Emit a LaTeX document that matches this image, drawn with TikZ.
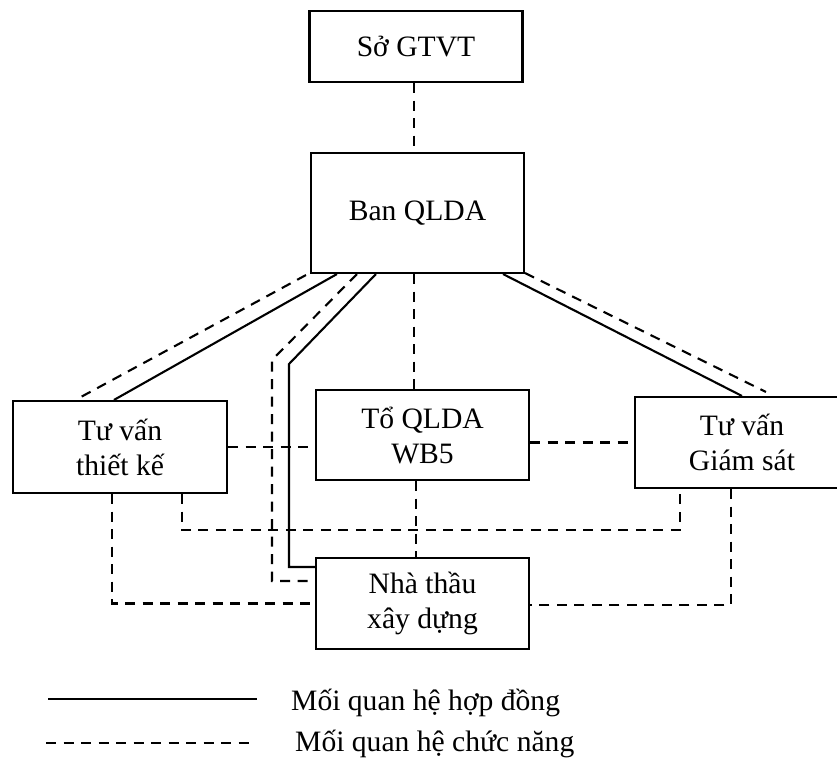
\documentclass[tikz,border=0pt]{standalone}
\usepackage{fontspec}
\setmainfont{Liberation Serif}
\usetikzlibrary{calc}

\tikzset{
  unit/.style={draw, line width=2.1pt, minimum width=213pt, align=center,
    inner sep=2pt, font=\fontsize{29.6}{35}\selectfont},
  contract/.style={line width=2.1pt},
  functional/.style={line width=2.1pt, dash pattern=on 10pt off 7.5pt},
  legendtext/.style={anchor=base west, inner sep=0pt, font=\fontsize{29.6}{35}\selectfont}
}

\begin{document}
\begin{tikzpicture}[x=1pt, y=-1pt]
  \useasboundingbox (0,0) rectangle (837,761);
  \clip (0,0) rectangle (837,761);

  % organisation units
  \node[unit, minimum height=71pt]  (so)  at (416,46.5)    {Sở GTVT};
  \node[unit, minimum height=120pt] (ban) at (417.5,213)   {Ban QLDA};
  \node[unit, minimum height=92pt, minimum width=214pt] (tk) at (120,447) {Tư vấn\\thiết kế};
  \node[unit, minimum height=90pt]  (to)  at (422.5,435)   {Tổ QLDA\\WB5};
  \node[unit, minimum height=91pt, minimum width=214pt] (gs) at (742,442.5) {Tư vấn\\Giám sát};
  \node[unit, minimum height=91pt]  (nt)  at (422.5,603.5) {Nhà thầu\\xây dựng};

  % Sở GTVT -- Ban QLDA
  \draw[functional] ($(so.south)+(-2,0)$) -- ($(ban.north)+(-3.5,0)$);

  % Ban QLDA -- Tư vấn thiết kế
  \draw[functional] ($(ban.south west)+(-4,1)$) -- ($(tk.north west)+(69,-3)$);
  \draw[contract]   ($(ban.south west)+(27,0)$) -- ($(tk.north west)+(102,0)$);

  % Ban QLDA -- Nhà thầu xây dựng
  \coordinate (bendd) at (272,360);
  \coordinate (bends) at (289,364);
  \draw[functional] ($(ban.south west)+(47,0)$) -- (bendd) |- ($(nt.north west)+(0,24)$);
  \draw[contract]   ($(ban.south west)+(66,0)$) -- (bends) |- ($(nt.north west)+(0,10)$);

  % Ban QLDA -- Tổ QLDA WB5
  \draw[functional] ($(ban.south)+(-3.5,0)$) -- ($(to.north)+(-8.5,0)$);

  % Ban QLDA -- Tư vấn Giám sát
  \draw[contract]   ($(ban.south east)+(-22,0)$) -- ($(gs.north west)+(108,0)$);
  \draw[functional] ($(ban.south east)+(0,-1)$) -- ($(gs.north west)+(132,-4)$);

  % horizontal links beside Tổ QLDA WB5
  \draw[functional] (tk.east) -- (tk.east -| to.west);
  \draw[functional] (gs.west -| to.east) -- (gs.west);

  % Tư vấn thiết kế -- Nhà thầu / Giám sát
  \draw[functional] ($(tk.south west)+(100,0)$) |- (nt.west);
  \draw[functional] ($(tk.south west)+(170,0)$) -- ++(0,36) -| ($(gs.south west)+(46,0)$);

  % Tư vấn Giám sát -- Nhà thầu
  \draw[functional] ($(gs.south west)+(97,0)$) |- ($(nt.north east)+(0,48)$);

  % Tổ QLDA WB5 -- Nhà thầu
  \draw[functional] ($(to.south)+(-6.5,0)$) -- ($(nt.north)+(-6.5,0)$);

  % legend
  \coordinate (la) at (48,699.3);
  \coordinate (lb) at (257,699.3);
  \coordinate (lc) at (46,743);
  \coordinate (ld) at (250,743);
  \draw[contract] (la) -- (lb);
  \draw[functional] (lc) -- (ld);
  \node[legendtext] (l1) at (291,710.7) {Mối quan hệ hợp đồng};
  \node[legendtext] (l2) at (295,751)   {Mối quan hệ chức năng};
\end{tikzpicture}
\end{document}
